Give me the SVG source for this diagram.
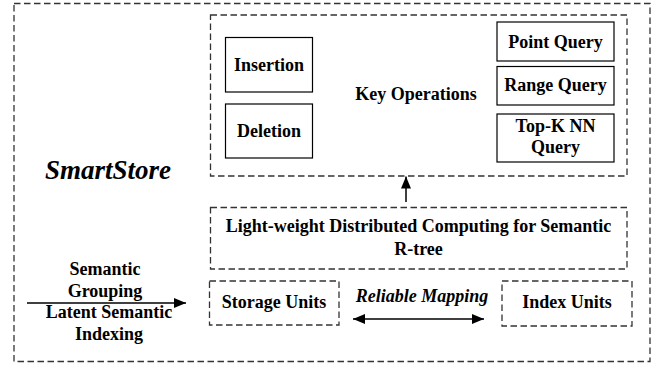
<svg xmlns="http://www.w3.org/2000/svg" width="656" height="374" viewBox="0 0 656 374">
<defs>
<style>
.dash{fill:none;stroke:#333;stroke-width:1.3;stroke-dasharray:6.5,3.5}
.solid{fill:#fff;stroke:#000;stroke-width:1.2}
.t{font-family:"Liberation Serif","Times New Roman",serif;font-weight:bold;font-size:18px;fill:#000;text-anchor:middle}
.it{font-style:italic}
.ln{stroke:#000;stroke-width:1.5;fill:none}
</style>
<marker id="ah" viewBox="0 0 12 10" refX="12" refY="5" markerWidth="12" markerHeight="10" markerUnits="userSpaceOnUse" orient="auto-start-reverse">
<path d="M0,0 L12,5 L0,10 z" fill="#000"/>
</marker>
</defs>
<rect width="656" height="374" fill="#fff"/>
<g id="smartstore">
<rect class="dash" x="14" y="3.5" width="636" height="358"/>
<text class="t it" x="108" y="179" style="font-size:27px">SmartStore</text>
</g>
<g id="key-operations">
<rect class="dash" x="210.5" y="15" width="416.5" height="161"/>
<text class="t" x="416" y="100">Key Operations</text>
</g>
<g id="insertion">
<rect class="solid" x="225.5" y="37.5" width="87" height="54.5"/>
<text class="t" x="269" y="71">Insertion</text>
</g>
<g id="deletion">
<rect class="solid" x="225.5" y="104" width="87" height="54"/>
<text class="t" x="269" y="137">Deletion</text>
</g>
<g id="point-query">
<rect class="solid" x="497" y="22" width="117" height="39"/>
<text class="t" x="555.5" y="47.5">Point Query</text>
</g>
<g id="range-query">
<rect class="solid" x="497" y="66.5" width="117" height="38.5"/>
<text class="t" x="555.5" y="91">Range Query</text>
</g>
<g id="topk-query">
<rect class="solid" x="497" y="114" width="117" height="48"/>
<text class="t" x="555.5" y="132">Top-K NN</text>
<text class="t" x="555.5" y="153">Query</text>
</g>
<g id="lightweight">
<rect class="dash" x="210.5" y="207.5" width="416.5" height="61.5"/>
<text class="t" x="418.5" y="232">Light-weight Distributed Computing for Semantic</text>
<text class="t" x="418.5" y="255">R-tree</text>
</g>
<g id="storage-units">
<rect class="dash" x="209.5" y="281" width="129.5" height="44"/>
<text class="t" x="274" y="308">Storage Units</text>
</g>
<g id="index-units">
<rect class="dash" x="502" y="281" width="130" height="45"/>
<text class="t" x="567" y="308">Index Units</text>
</g>
<g id="connectors">
<line class="ln" x1="406" y1="202" x2="406" y2="176.5" marker-end="url(#ah)"/>
<line class="ln" x1="27" y1="303" x2="186" y2="303" marker-end="url(#ah)"/>
<line class="ln" x1="353" y1="319" x2="484" y2="319" marker-start="url(#ah)" marker-end="url(#ah)"/>
<text class="t" x="105" y="275">Semantic</text>
<text class="t" x="105" y="297">Grouping</text>
<text class="t" x="109" y="318">Latent Semantic</text>
<text class="t" x="109" y="340">Indexing</text>
<text class="t it" x="422" y="302">Reliable Mapping</text>
</g>
</svg>
